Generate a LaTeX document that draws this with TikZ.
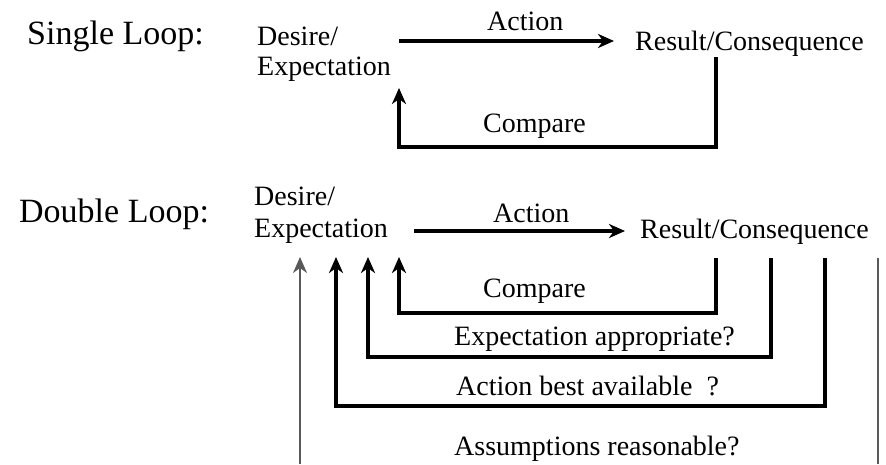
\documentclass[tikz,border=0pt]{standalone}
\usepackage{fontspec}
\setmainfont{Liberation Serif}
\usetikzlibrary{arrows.meta}
\begin{document}
\begin{tikzpicture}[x=1pt,y=-1pt,
  lbl/.style={inner sep=0pt, anchor=base west, font=\fontsize{28}{30}\selectfont},
  ttl/.style={inner sep=0pt, anchor=base west, font=\fontsize{34}{36}\selectfont},
  fat/.style={line width=3.5pt},
  thinline/.style={line width=1.3pt, draw=black!65},
  tip/.style={-{Stealth[length=16pt,width=14pt,inset=5pt]}}
]
\useasboundingbox (0,0) rectangle (886,464);
% ---------- Single loop ----------
\node[ttl] (t1) at (27,44) {Single Loop:};
\node[lbl] (d1) at (257,45) {Desire/};
\node[lbl] (e1) at (257,75) {Expectation};
\node[lbl] (a1) at (487,30) {Action};
\node[lbl] (r1) at (635,50) {Result/Consequence};
\node[lbl] (c1) at (483,132) {Compare};
\coordinate (a1s) at (399,41);
\coordinate (a1e) at (614,41);
\draw[fat,tip] (a1s) -- (a1e);
\coordinate (l1s) at (716,57);
\coordinate (l1a) at (716,147);
\coordinate (l1b) at (399,147);
\coordinate (l1e) at (399,88);
\draw[fat,tip] (l1s) -- (l1a) -- (l1b) -- (l1e);
% ---------- Double loop ----------
\node[ttl] (t2) at (19,222) {Double Loop:};
\node[lbl] (d2) at (254,205) {Desire/};
\node[lbl] (e2) at (254,237) {Expectation};
\node[lbl] (a2) at (493,222) {Action};
\node[lbl] (r2) at (640,238) {Result/Consequence};
\node[lbl] (c2) at (483,297) {Compare};
\node[lbl] (q1) at (454,345) {Expectation appropriate?};
\node[lbl] (q2) at (456,395) {Action best available\ \ ?};
\node[lbl] (q3) at (454,455) {Assumptions reasonable?};
\coordinate (a2s) at (414,231);
\coordinate (a2e) at (625,231);
\draw[fat,tip] (a2s) -- (a2e);
% compare
\coordinate (p1s) at (716,258);
\coordinate (p1a) at (716,313);
\coordinate (p1b) at (399,313);
\coordinate (p1e) at (399,257);
\draw[fat,tip] (p1s) -- (p1a) -- (p1b) -- (p1e);
% expectation appropriate
\coordinate (p2s) at (771,258);
\coordinate (p2a) at (771,357);
\coordinate (p2b) at (368,357);
\coordinate (p2e) at (368,257);
\draw[fat,tip] (p2s) -- (p2a) -- (p2b) -- (p2e);
% action best available
\coordinate (p3s) at (825,258);
\coordinate (p3a) at (825,406);
\coordinate (p3b) at (336,406);
\coordinate (p3e) at (336,257);
\draw[fat,tip] (p3s) -- (p3a) -- (p3b) -- (p3e);
% assumptions reasonable (open bottom)
\coordinate (p4s) at (878,258);
\coordinate (p4a) at (878,464);
\draw[thinline] (p4s) -- (p4a);
\coordinate (p4b) at (300,464);
\coordinate (p4e) at (300,257);
\draw[thinline,tip] (p4b) -- (p4e);
\end{tikzpicture}
\end{document}
